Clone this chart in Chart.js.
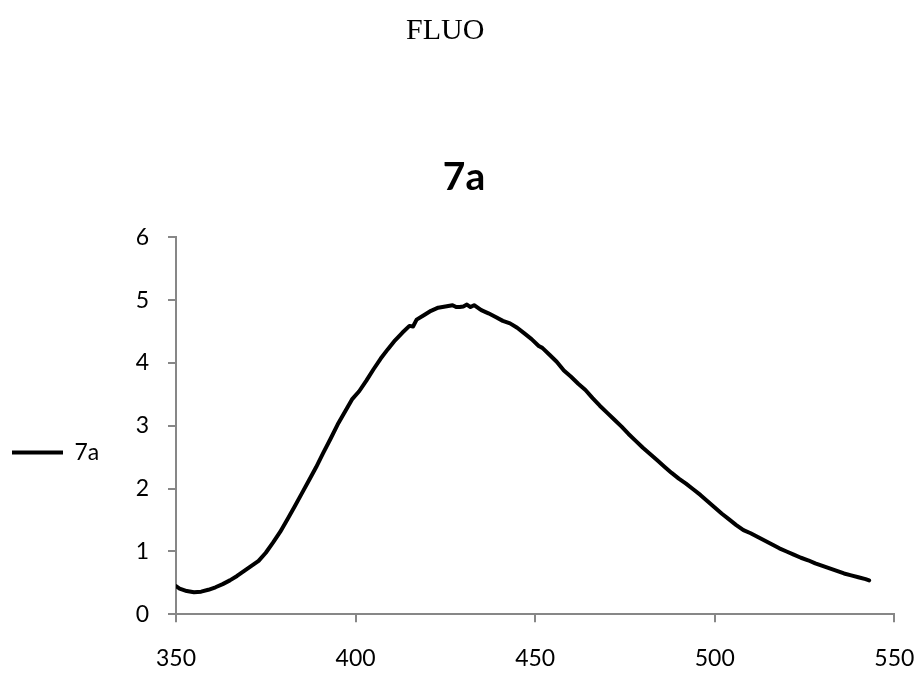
<!DOCTYPE html>
<html>
<head>
<meta charset="utf-8">
<script src="https://cdn.jsdelivr.net/npm/chart.js@4/dist/chart.umd.min.js"></script>
<style>
  html, body { margin: 0; padding: 0; background: #fff; }
  #wrap { position: relative; width: 919px; height: 673px; }
  #fluo { position: absolute; left: 406px; top: 14px; font-family: "Liberation Serif", "Times New Roman", serif; font-size: 30px; line-height: 30px; color: #000; white-space: nowrap; }
  canvas { position: absolute; left: 0; top: 0; }
</style>
</head>
<body>
<div id="wrap">
  <canvas id="c" width="919" height="673"></canvas>
  <div id="fluo">FLUO</div>
</div>
<script>
const seriesName = '7a';
const chartTitle = '7a';
const wavelengths = [350,351,353,355,357,359,361,363,365,367,369,371,373,375,377,379,381,383,385,387,389,391,393,395,397,399,401,403,405,407,409,411,413,415,416,417,419,421,423,425,427,428,429,430,431,432,433,435,437,439,441,443,445,447,449,451,452,454,456,458,460,462,464,466,468,470,472,474,476,478,480,482,484,486,488,490,492,494,496,498,500,502,504,506,508,510,512,514,516,518,520,522,524,526,528,530,532,534,536,538,540,542,543];
const intensity = [0.45,0.41,0.37,0.35,0.36,0.39,0.43,0.48,0.54,0.61,0.69,0.77,0.85,0.98,1.14,1.31,1.51,1.71,1.92,2.13,2.34,2.57,2.79,3.02,3.22,3.42,3.55,3.72,3.90,4.07,4.22,4.36,4.48,4.59,4.58,4.69,4.76,4.83,4.88,4.90,4.92,4.89,4.89,4.90,4.93,4.89,4.92,4.84,4.79,4.73,4.67,4.63,4.56,4.47,4.38,4.27,4.24,4.13,4.02,3.88,3.78,3.67,3.57,3.44,3.32,3.21,3.10,2.99,2.87,2.76,2.65,2.55,2.45,2.35,2.25,2.16,2.08,1.99,1.90,1.80,1.70,1.60,1.51,1.42,1.34,1.29,1.23,1.17,1.11,1.05,1.00,0.95,0.90,0.86,0.81,0.77,0.73,0.69,0.65,0.62,0.59,0.56,0.54];
const xTicks = [350,400,450,500,550];
const yTicks = [0,1,2,3,4,5,6];

const points = wavelengths.map((w, i) => ({x: w, y: intensity[i]}));
const axisGray = '#878787';
const tickFont = {family: 'Lato, "Open Sans", sans-serif', size: 23};

new Chart(document.getElementById('c'), {
  type: 'line',
  data: {
    datasets: [{
      label: seriesName,
      data: points,
      borderColor: '#000',
      backgroundColor: '#000',
      borderWidth: 4,
      borderJoinStyle: 'round',
      borderCapStyle: 'round',
      pointRadius: 0,
      tension: 0,
      fill: false
    }]
  },
  options: {
    responsive: false,
    animation: false,
    devicePixelRatio: 1,
    layout: { padding: { left: 9, right: 0, top: 0, bottom: 0 } },
    plugins: {
      title: {
        display: true,
        text: chartTitle,
        color: '#000',
        font: { family: 'Lato, "Open Sans", sans-serif', size: 39, weight: 'bold', lineHeight: 1.2 },
        padding: { top: 153.9, bottom: 36.6 }
      },
      legend: {
        display: true,
        position: 'left',
        align: 'center',
        title: { display: true, text: '', font: { size: 10, lineHeight: 1 }, padding: { top: 222, bottom: 0 } },
        labels: {
          boxWidth: 51,
          boxHeight: 4,
          padding: 3,
          color: '#000',
          font: tickFont,
          generateLabels: (chart) => Chart.defaults.plugins.legend.labels.generateLabels(chart).map(l => Object.assign(l, { lineWidth: 0 }))
        }
      },
      tooltip: { enabled: false }
    },
    scales: {
      x: {
        type: 'linear',
        position: 'bottom',
        min: xTicks[0],
        max: xTicks[xTicks.length - 1],
        afterBuildTicks: (s) => { s.ticks = xTicks.map(v => ({ value: v })); },
        afterFit: (s) => { s.height = 58.7; s.paddingRight = 0; s.paddingLeft = 0; },
        border: { display: true, color: axisGray, width: 2 },
        grid: { display: true, drawOnChartArea: false, drawTicks: true, tickLength: 8, color: axisGray, lineWidth: 2 },
        ticks: { color: '#000', font: tickFont, padding: 22.8, maxRotation: 0, autoSkip: false }
      },
      y: {
        type: 'linear',
        position: 'left',
        min: yTicks[0],
        max: yTicks[yTicks.length - 1],
        afterBuildTicks: (s) => { s.ticks = yTicks.map(v => ({ value: v })); },
        afterFit: (s) => { s.width = 167 - (s.chart.legend ? s.chart.legend.width : 0); },
        border: { display: true, color: axisGray, width: 2 },
        grid: { display: true, drawOnChartArea: false, drawTicks: true, tickLength: 8, color: axisGray, lineWidth: 2 },
        ticks: { color: '#000', font: tickFont, padding: 19 }
      },
      yRight: {
        type: 'linear',
        position: 'right',
        display: true,
        min: 0,
        max: 1,
        afterFit: (s) => { s.width = 24.7; s.paddingTop = 0; s.paddingBottom = 0; },
        border: { display: false },
        grid: { display: false },
        ticks: { display: false }
      }
    }
  }
});
</script>
</body>
</html>
